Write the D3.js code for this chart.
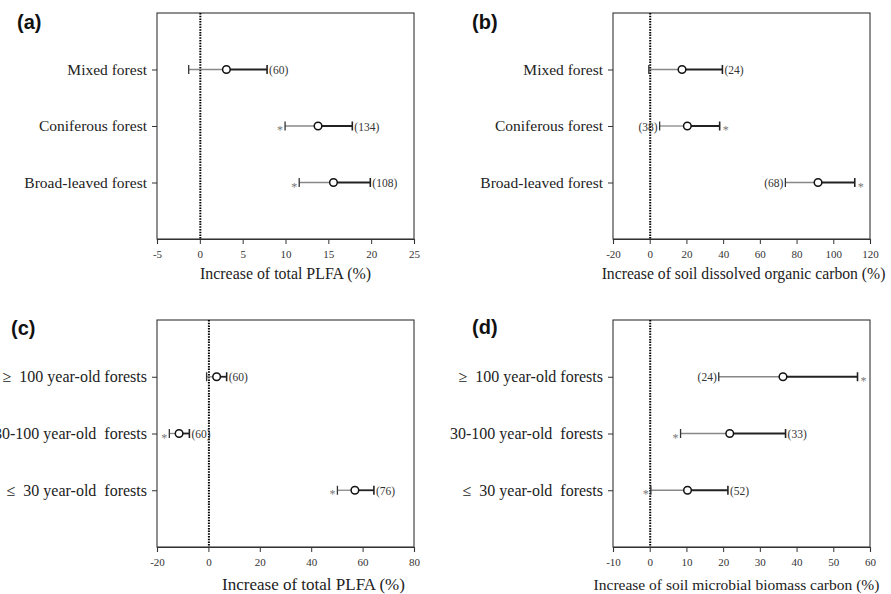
<!DOCTYPE html>
<html><head><meta charset="utf-8">
<script src="https://cdn.jsdelivr.net/npm/d3@7"></script>
<style>
body{margin:0;background:#fff;}
svg{display:block;}
</style></head>
<body>
<svg id="c" width="891" height="594"></svg>
<script>
// ---------- data ----------
const forestTypes = ["Mixed forest", "Coniferous forest", "Broad-leaved forest"];
const ageClasses = ["\u2265  100 year-old forests", "30-100 year-old  forests", "\u2264  30 year-old  forests"];

// (a) total PLFA by forest type
const aMean = [3.1, 13.8, 15.6];
const aLow = [-1.3, 9.95, 11.6];
const aHigh = [7.85, 17.8, 19.9];
const aN = ["(60)", "(134)", "(108)"];
const aStar = ["", "left", "left"];
const aNSide = ["right", "right", "right"];
const aTicks = [-5, 0, 5, 10, 15, 20, 25];

// (b) soil DOC by forest type
const bMean = [17.6, 20.5, 91.7];
const bLow = [-0.5, 5.4, 73.9];
const bHigh = [39.6, 38.1, 111.7];
const bN = ["(24)", "(38)", "(68)"];
const bStar = ["", "right", "right"];
const bNSide = ["right", "left", "left"];
const bTicks = [-20, 0, 20, 40, 60, 80, 100, 120];

// (c) total PLFA by stand age
const cMean = [3.2, -11.4, 57.0];
const cLow = [-0.7, -15.2, 50.2];
const cHigh = [7.1, -7.4, 64.4];
const cN = ["(60)", "(60)", "(76)"];
const cStar = ["", "left", "left"];
const cNSide = ["right", "right", "right"];
const cTicks = [-20, 0, 20, 40, 60, 80];

// (d) soil MBC by stand age
const dMean = [36.3, 21.8, 10.3];
const dLow = [18.8, 8.4, 0.3];
const dHigh = [56.6, 37.0, 21.3];
const dN = ["(24)", "(33)", "(52)"];
const dStar = ["right", "left", "left"];
const dNSide = ["left", "right", "right"];
const dTicks = [-10, 0, 10, 20, 30, 40, 50, 60];

const SERIF = "'Liberation Serif', 'Times New Roman', serif";
const SANS = "'Liberation Sans', Arial, sans-serif";

const panels = [
  {tag:"(a)", cats:forestTypes, mean:aMean, low:aLow, high:aHigh, n:aN, star:aStar, nSide:aNSide, ticks:aTicks,
   title:"Increase of total PLFA (%)", box:[157,414,13,239], tagPos:[17,29], titleSize:15.9, titleY:279, titleDx:0, catSize:15.5},
  {tag:"(b)", cats:forestTypes, mean:bMean, low:bLow, high:bHigh, n:bN, star:bStar, nSide:bNSide, ticks:bTicks,
   title:"Increase of soil dissolved organic carbon (%)", box:[613,870,13,239], tagPos:[472,29], titleSize:15.7, titleY:279, titleDx:2, catSize:15.5},
  {tag:"(c)", cats:ageClasses, mean:cMean, low:cLow, high:cHigh, n:cN, star:cStar, nSide:cNSide, ticks:cTicks,
   title:"Increase of total PLFA (%)", box:[157,414,320,547], tagPos:[11,335], titleSize:17, titleY:590, titleDx:28, catSize:16},
  {tag:"(d)", cats:ageClasses, mean:dMean, low:dLow, high:dHigh, n:dN, star:dStar, nSide:dNSide, ticks:dTicks,
   title:"Increase of soil microbial biomass carbon (%)", box:[613,870,320,547], tagPos:[472,334], titleSize:15.5, titleY:590, titleDx:-5, catSize:16}
];

const fmt = v => String(v).replace("\u2212","-");

const svg = d3.select("#c");

panels.forEach(p => {
  const [L,R,T,B] = p.box;
  const x = d3.scaleLinear().domain(d3.extent(p.ticks)).range([L,R]);
  const y = d3.scaleLinear().domain([0,4]).range([T,B]);
  const g = svg.append("g");

  // frame
  g.append("rect").attr("x",L).attr("y",T).attr("width",R-L).attr("height",B-T)
    .attr("fill","none").attr("stroke","#333").attr("stroke-width",1.1);

  // x axis
  const xa = g.append("g").attr("transform",`translate(0,${B})`)
    .call(d3.axisBottom(x).tickValues(p.ticks).tickSize(5).tickPadding(6).tickFormat(fmt));
  xa.attr("font-family", SERIF);
  xa.select(".domain").attr("stroke","#333").attr("stroke-width",1.1);
  xa.selectAll(".tick line").attr("stroke","#333");
  xa.selectAll("text").style("font-family",SERIF).style("font-size","11px").attr("fill","#333");

  // y axis
  const ya = g.append("g").attr("transform",`translate(${L},0)`)
    .call(d3.axisLeft(y).tickValues([1,2,3]).tickSize(5).tickPadding(5).tickFormat(i => p.cats[i-1]));
  ya.attr("font-family", SERIF);
  ya.select(".domain").remove();
  ya.selectAll(".tick line").attr("stroke","#333");
  ya.selectAll("text").style("font-family",SERIF).style("font-size",p.catSize+"px")
    .style("white-space","pre").attr("fill","#222");

  // zero line
  g.append("line").attr("x1",x(0)+0.5).attr("x2",x(0)+0.5).attr("y1",T).attr("y2",B)
    .attr("stroke","#000").attr("stroke-width",2).attr("stroke-dasharray","1.5,1.2");

  const rows = p.cats.map((c,i) => ({i, yv:y(i+1), mean:p.mean[i], low:p.low[i], high:p.high[i], n:p.n[i], star:p.star[i], nSide:p.nSide[i]}));
  const r = g.selectAll(".row").data(rows).join("g").attr("class","row");

  r.append("line").attr("x1",d=>x(d.low)).attr("x2",d=>x(d.mean)).attr("y1",d=>d.yv).attr("y2",d=>d.yv)
    .attr("stroke","#888").attr("stroke-width",1.3);
  r.append("line").attr("x1",d=>x(d.mean)).attr("x2",d=>x(d.high)).attr("y1",d=>d.yv).attr("y2",d=>d.yv)
    .attr("stroke","#222").attr("stroke-width",1.8);
  r.append("line").attr("x1",d=>x(d.low)).attr("x2",d=>x(d.low)).attr("y1",d=>d.yv-4.5).attr("y2",d=>d.yv+4.5)
    .attr("stroke","#333").attr("stroke-width",1.3);
  r.append("line").attr("x1",d=>x(d.high)).attr("x2",d=>x(d.high)).attr("y1",d=>d.yv-4.5).attr("y2",d=>d.yv+4.5)
    .attr("stroke","#222").attr("stroke-width",1.6);
  r.append("circle").attr("cx",d=>x(d.mean)).attr("cy",d=>d.yv).attr("r",3.8)
    .attr("fill","#fff").attr("stroke","#111").attr("stroke-width",1.5);

  r.append("text").text(d=>d.n)
    .attr("x",d=>d.nSide==="right" ? x(d.high)+2 : x(d.low)-2)
    .attr("y",d=>d.yv+4.5)
    .attr("text-anchor",d=>d.nSide==="right" ? "start" : "end")
    .style("font-family",SERIF).style("font-size","11.5px").attr("fill","#333");

  r.filter(d=>d.star).append("text").text("*")
    .attr("x",d=>d.star==="left" ? x(d.low)-5 : x(d.high)+6)
    .attr("y",d=>d.yv+8)
    .attr("text-anchor","middle")
    .style("font-family",SERIF).style("font-size","12px").attr("fill","#777");

  // x title
  g.append("text").text(p.title).attr("x",(L+R)/2+p.titleDx).attr("y",p.titleY)
    .attr("text-anchor","middle").style("font-family",SERIF).style("font-size",p.titleSize+"px").attr("fill","#222");

  // panel tag
  g.append("text").text(p.tag).attr("x",p.tagPos[0]).attr("y",p.tagPos[1])
    .style("font-family",SANS).style("font-weight","bold").style("font-size","20px").attr("fill","#111");
});
</script>
</body></html>
